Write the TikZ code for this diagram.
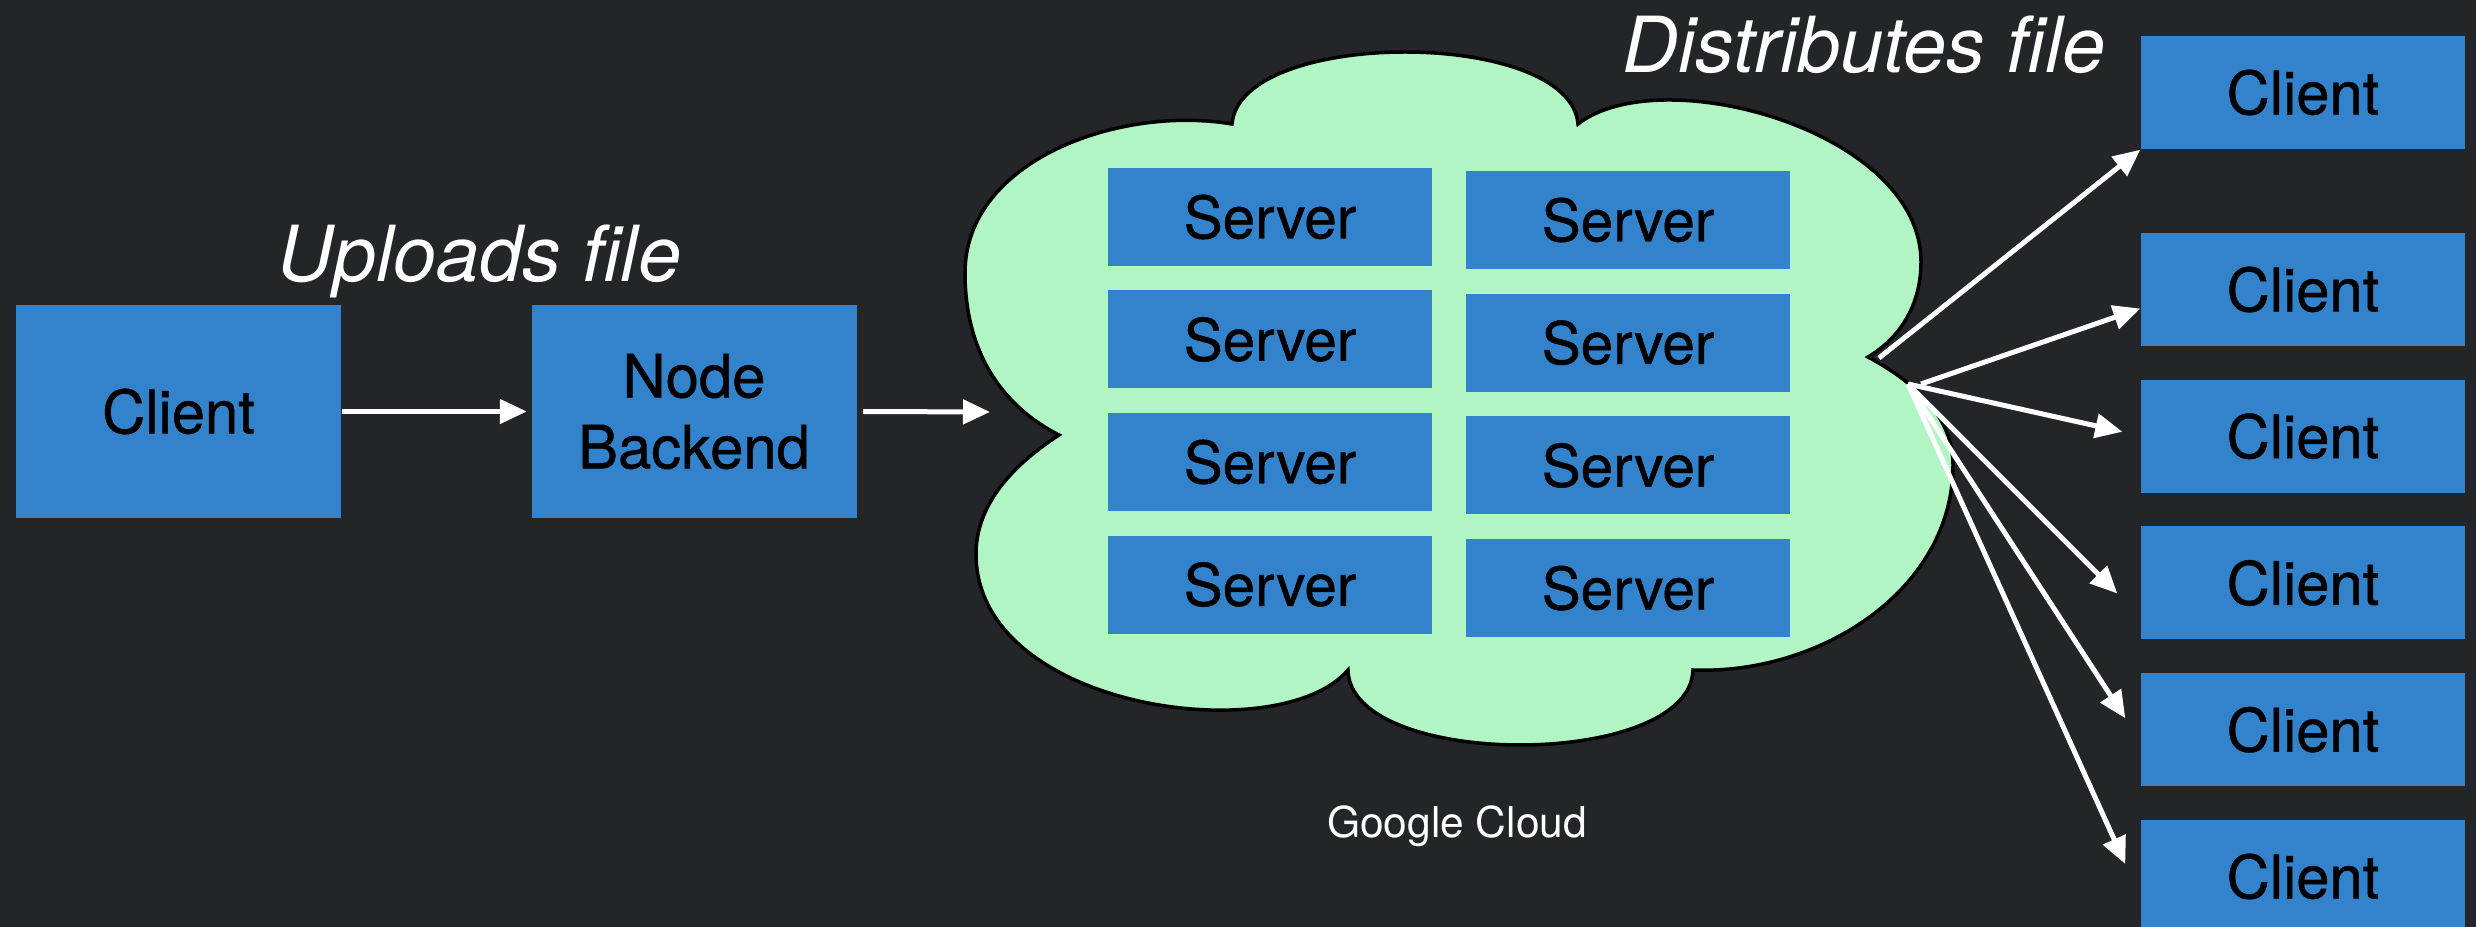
\documentclass[tikz,border=0pt]{standalone}
\usepackage{fontspec}
\setmainfont{TeX Gyre Heros}
\newfontfamily\boxfont[FakeBold=0.8]{TeX Gyre Heros}
\usetikzlibrary{arrows.meta}

\definecolor{bgdark}{RGB}{36,37,40}
\definecolor{boxblue}{RGB}{51,131,204}
\definecolor{cloudgreen}{RGB}{178,245,197}

\begin{document}
\begin{tikzpicture}[
        box/.style={fill=boxblue, text=black, inner sep=0pt, font=\boxfont\fontsize{17}{20.2}\selectfont},
        bigbox/.style={box, minimum width=3.25cm, minimum height=2.13cm, align=center},
        serverbox/.style={box, minimum width=3.24cm, minimum height=0.98cm, font=\boxfont\fontsize{16.6}{20}\selectfont},
        clientbox/.style={box, minimum width=3.24cm, minimum height=1.13cm},
        arr/.style={draw=white, line width=0.05cm, -{Triangle[length=0.27cm,width=0.24cm]}},
        caption/.style={text=white, font=\fontsize{22}{26}\selectfont\itshape}
    ]
            \fill[bgdark] (0,0) rectangle (24.76,-9.27);
            \useasboundingbox (0,0) rectangle (24.76,-9.27);

            % the cloud
            \draw[fill=cloudgreen, line width=0.035cm] (10.59,-4.35)
                .. controls (10.0,-4.05) and (9.65,-3.5) .. (9.65,-2.73)
                .. controls (9.65,-1.6) and (11.2,-1.05) .. (12.32,-1.24)
                .. controls (12.4,-0.28) and (15.7,-0.28) .. (15.78,-1.24)
                .. controls (16.6,-0.6) and (19.21,-1.3) .. (19.21,-2.62)
                .. controls (19.21,-3.05) and (19.0,-3.38) .. (18.68,-3.57)
                .. controls (19.2,-3.85) and (19.53,-4.2) .. (19.53,-4.65)
                .. controls (19.53,-5.9) and (18.2,-6.75) .. (16.93,-6.70)
                .. controls (16.9,-7.7) and (13.5,-7.7) .. (13.48,-6.70)
                .. controls (12.8,-7.5) and (9.76,-7.1) .. (9.76,-5.54)
                .. controls (9.76,-5.1) and (10.05,-4.7) .. cycle;

            \foreach \i in {0,...,3} {
                \node[serverbox] (sa\i) at (12.70,{-2.17-1.225*\i}) {Server};
                \node[serverbox] (sb\i) at (16.28,{-2.20-1.227*\i}) {Server};
            }

            \node[bigbox] (upclient) at (1.785,-4.115) {Client};
            \node[bigbox] (backend) at (6.94,-4.115) {Node\\Backend};

            \node[clientbox] (cl1) at (23.03,-0.925) {Client};
            \foreach \i in {2,...,6}
                \node[clientbox] (cl\i) at (23.03,{-2.895-1.4675*(\i-2)}) {Client};

            \node[caption, anchor=base] (uptext) at (4.795,-2.82) {Uploads file};
            \node[caption, anchor=base] (disttext) at (18.64,-0.73) {Distributes file};
            \node[text=white, anchor=base, font=\fontsize{12.1}{14}\selectfont] (gcloud) at (14.57,-8.37) {Google Cloud};

            \draw[arr] (upclient.east) -- ([xshift=-0.04cm]backend.west);
            \coordinate (cloudin) at (9.90,-4.12);
            \draw[arr] ([xshift=0.06cm]backend.east) -- (cloudin);

            \coordinate (fantop) at (18.79,-3.58);
            \coordinate (fan) at (19.08,-3.84);
            \draw[arr] (fantop) -- (cl1.south west);
            \draw[arr] ([xshift=0.13cm]fan) -- ([yshift=-0.19cm]cl2.west);
            \draw[arr] (fan) -- ([shift={(-0.18,0.045)}]cl3.west);
            \draw[arr] (fan) -- ([shift={(-0.23,-0.105)}]cl4.west);
            \draw[arr] (fan) -- ([shift={(-0.15,0.115)}]cl5.west);
            \draw[arr] (fan) -- ([shift={(-0.15,0.125)}]cl6.west);
        \end{tikzpicture}
\end{document}
